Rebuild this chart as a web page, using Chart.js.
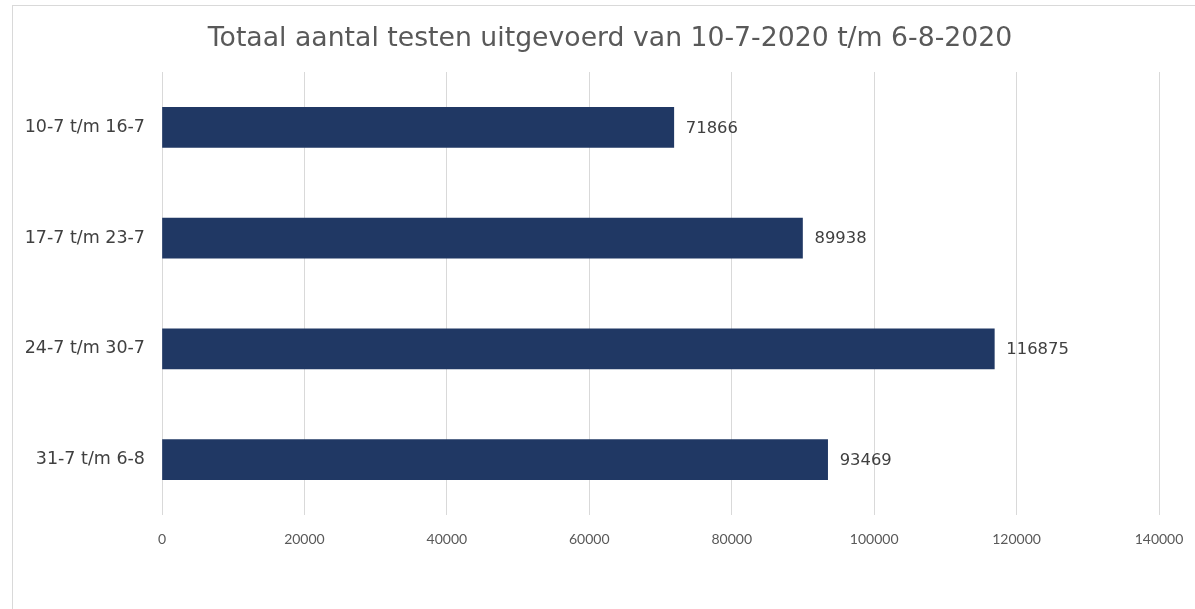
<!DOCTYPE html>
<html>
<head>
<meta charset="utf-8">
<script src="https://cdn.jsdelivr.net/npm/chart.js@4"></script>
<style>
  html, body { margin: 0; padding: 0; background: #fff; overflow: hidden; }
  #wrap { position: relative; width: 1195px; height: 609px; }
  #frame { position: absolute; left: 12px; top: 5px; width: 1200px; height: 620px;
           border: 1px solid #d9d9d9; box-sizing: border-box; pointer-events: none; }
  canvas { position: absolute; left: 0; top: 0; }
</style>
</head>
<body>
<div id="wrap">
  <canvas id="chart" width="1195" height="609"></canvas>
  <div id="frame"></div>
</div>
<script>
// weeks tested
const weeks = ["10-7 t/m 16-7", "17-7 t/m 23-7", "24-7 t/m 30-7", "31-7 t/m 6-8"];
const testCounts = [71866, 89938, 116875, 93469];
const xTicks = [0, 20000, 40000, 60000, 80000, 100000, 120000, 140000];

const chartTitle = "Totaal aantal testen uitgevoerd van 10-7-2020 t/m 6-8-2020";
const mainFont = "DejaVu Sans, Verdana, sans-serif";

// title sits centred over the whole frame, not over the plot, so draw it here
const frameTitle = {
  id: "frameTitle",
  afterDraw(chart) {
    const ctx = chart.ctx;
    ctx.save();
    ctx.font = "26.7px " + mainFont;
    ctx.fillStyle = "#595959";
    ctx.textAlign = "center";
    ctx.textBaseline = "middle";
    ctx.fillText(chartTitle, 610, 39);
    ctx.restore();
  },
};

// draws the value right after each bar
const barValues = {
  id: "barValues",
  afterDatasetsDraw(chart) {
    const ctx = chart.ctx;
    const meta = chart.getDatasetMeta(0);
    ctx.save();
    ctx.font = "16.4px " + mainFont;
    ctx.fillStyle = "#404040";
    ctx.textAlign = "left";
    ctx.textBaseline = "middle";
    meta.data.forEach((bar, i) => {
      ctx.fillText(String(testCounts[i]), bar.x + 12, bar.y + 1);
    });
    ctx.restore();
  },
};

const ctx = document.getElementById("chart").getContext("2d");
new Chart(ctx, {
  type: "bar",
  data: {
    labels: weeks,
    datasets: [
      {
        label: "Testen",
        data: testCounts,
        backgroundColor: "#203864",
        barThickness: 40,
      },
    ],
  },
  options: {
    indexAxis: "y",
    responsive: false,
    animation: false,
    layout: { padding: { left: 0, right: 36, top: 72, bottom: 0 } },
    plugins: {
      legend: { display: false },
      tooltip: { enabled: false },
      title: { display: false },
    },
    scales: {
      x: {
        min: 0,
        max: 140000,
        afterBuildTicks(scale) {
          scale.ticks = xTicks.map((v) => ({ value: v }));
        },
        afterFit(scale) {
          scale.height = 94;
          scale.paddingLeft = 0;
          scale.paddingRight = 0;
        },
        grid: { color: "#d9d9d9", drawTicks: false },
        border: { display: false },
        ticks: {
          padding: 16,
          color: "#595959",
          font: { family: "Lato", size: 14 },
          callback: (v) => String(v),
        },
      },
      y: {
        afterFit(scale) {
          scale.width = 162;
        },
        grid: { display: false },
        border: { display: false },
        ticks: {
          padding: 9,
          color: "#404040",
          font: { family: mainFont, size: 17.5 },
        },
      },
    },
  },
  plugins: [barValues, frameTitle],
});
</script>
</body>
</html>
